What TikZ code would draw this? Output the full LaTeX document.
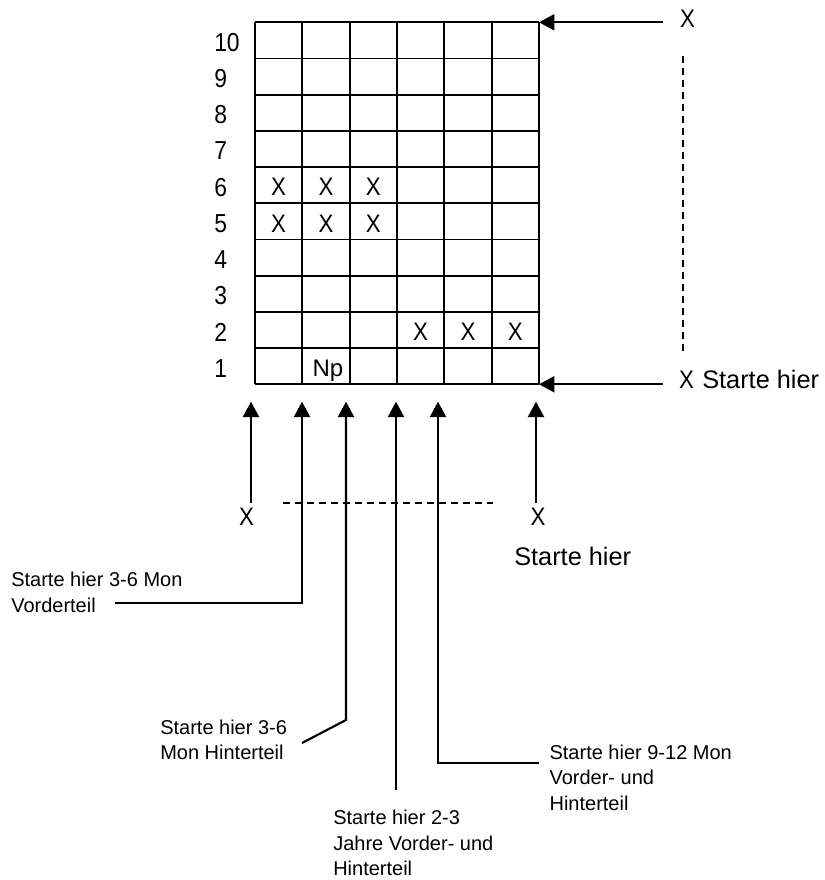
\documentclass[tikz,border=0pt]{standalone}
\usepackage{fontspec}
\setmainfont{Liberation Sans}
\newfontfamily\narrowfont[FakeStretch=0.88]{Liberation Sans}
\usetikzlibrary{arrows.meta}

\tikzset{
    gridline/.style={line width=1.3pt},
    pointer/.style={line width=1.6pt, -{Triangle[length=11.5pt,width=12pt]}},
    guide/.style={line width=0.9pt, dash pattern=on 5.5pt off 3.5pt},
    cellmark/.style={font=\narrowfont\fontsize{19}{19}\selectfont, inner sep=0pt},
    rownum/.style={font=\narrowfont\fontsize{19.5}{19.5}\selectfont, inner sep=0pt, anchor=west},
    note/.style={font=\fontsize{15}{19.2}\selectfont, align=left, anchor=north west, inner sep=0pt},
    bignote/.style={font=\fontsize{19}{19}\selectfont, inner sep=0pt},
}

\begin{document}
\begin{tikzpicture}[x=0.75pt, y=-0.75pt]
    \useasboundingbox (0,0) rectangle (824,880);

    % grid
    \foreach \c in {0,...,6}
        \draw[gridline] ({255+\c*47.33},22.3) -- ({255+\c*47.33},384.3);
    \foreach \r in {0,...,10}
        \draw[gridline] (255,{22.3+\r*36.2}) -- (539,{22.3+\r*36.2});

    % row numbers
    \foreach \r in {1,...,10}
        \node[rownum] (row\r) at (214,{386.3-(\r-0.5)*36.2}) {\r};

    % marks in the cells
    \foreach \r/\c in {6/1,6/2,6/3,5/1,5/2,5/3,2/4,2/5,2/6}
        \node[cellmark] (mark-\r-\c) at ({255+(\c-0.5)*47.33},{386.3-(\r-0.5)*36.2}) {X};
    \node[font=\fontsize{18}{18}\selectfont, inner sep=0pt, anchor=base] (np) at (328,376) {Np};

    % right side
    \coordinate (tr) at (539,22.3);
    \coordinate (trtail) at (663,22.3);
    \coordinate (br) at (539,384.3);
    \coordinate (brtail) at (663,384.3);
    \node[cellmark] (topx) at (687.5,18.5) {X};
    \node[cellmark] (botx) at (686.5,380) {X};
    \node[bignote, anchor=base west] (starthier) at (702,388.3) {Starte hier};
    \draw[pointer] (trtail) -- (tr);
    \draw[pointer] (brtail) -- (br);
    \coordinate (vtop) at (683,56);
    \coordinate (vbot) at (683,353);
    \draw[guide] (vtop) -- (vbot);

    % bottom side
    \coordinate (t1) at (251,401.7);
    \coordinate (s1) at (251,503);
    \coordinate (t6) at (536,401.7);
    \coordinate (s6) at (536,503);
    \node[cellmark] (leftx) at (246.5,516.5) {X};
    \node[cellmark] (rightx) at (538,516.5) {X};
    \node[bignote, anchor=base west] (starthier2) at (514,565) {Starte hier};
    \draw[pointer] (s1) -- (t1);
    \draw[pointer] (s6) -- (t6);
    \coordinate (hleft) at (283,503);
    \coordinate (hright) at (493,503);
    \draw[guide, line width=1.1pt] (hleft) -- (hright);

    % start labels
    \node[note] (v36) at (11,571.7) {Starte hier 3-6 Mon\\Vorderteil};
    \node[note] (h36) at (160,719.3) {Starte hier 3-6\\Mon Hinterteil};
    \node[note] (j23) at (333,810) {Starte hier 2-3\\Jahre Vorder- und\\Hinterteil};
    \node[note] (m912) at (549.3,744.3) {Starte hier 9-12 Mon\\Vorder- und\\Hinterteil};

    \coordinate (t2) at (302,401.7);
    \coordinate (s2) at (115,602.7);
    \coordinate (t3) at (346,401.7);
    \coordinate (b3) at (346,720);
    \coordinate (s3) at (302,743);
    \coordinate (t4) at (396,401.7);
    \coordinate (s4) at (396,790);
    \coordinate (t5) at (438,401.7);
    \coordinate (s5) at (539,763.3);
    \draw[pointer] (s2) -| (t2);
    \draw[pointer] (s3) -- (b3) -- (t3);
    \draw[pointer] (s4) -- (t4);
    \draw[pointer] (s5) -| (t5);
\end{tikzpicture}
\end{document}
